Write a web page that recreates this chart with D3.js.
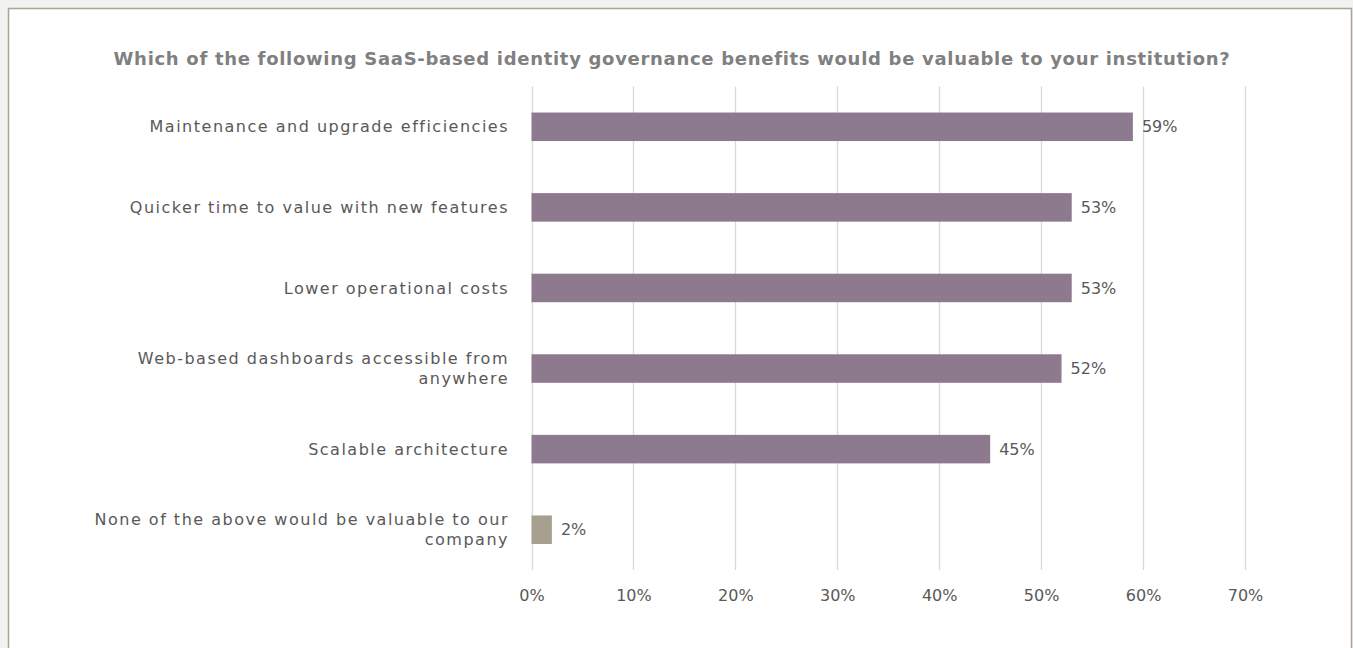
<!DOCTYPE html>
<html>
<head>
<meta charset="utf-8">
<script src="https://cdn.jsdelivr.net/npm/d3@7/dist/d3.min.js"></script>
<style>
  html, body { margin: 0; padding: 0; background: #f2f2f2; }
  svg { display: block; }
  text { font-family: "DejaVu Sans", sans-serif; }
</style>
</head>
<body>
<svg id="chart" width="1353" height="648"></svg>
<script>
// Survey responses (share of respondents, %)
const categories = [
  "Maintenance and upgrade efficiencies",
  "Quicker time to value with new features",
  "Lower operational costs",
  "Web-based dashboards accessible from\nanywhere",
  "Scalable architecture",
  "None of the above would be valuable to our\ncompany"
];
const values = [59, 53, 53, 52, 45, 2];
const barColors = ["#8e7a8f", "#8e7a8f", "#8e7a8f", "#8e7a8f", "#8e7a8f", "#a8a08f"];
const tickValues = [0, 10, 20, 30, 40, 50, 60, 70];
const title = "Which of the following SaaS-based identity governance benefits would be valuable to your institution?";

const svg = d3.select("#chart");
const W = 1353, H = 648;

// chart frame
svg.append("rect")
  .attr("x", 8.5).attr("y", 8.5)
  .attr("width", W - 10).attr("height", H + 10)
  .attr("fill", "#ffffff")
  .attr("stroke", "#aaa494")
  .attr("stroke-width", 1.5);

const plot = { left: 531.5, right: 1245, top: 86.5, bottom: 570 };

const x = d3.scaleLinear().domain([0, 70]).range([plot.left, plot.right]);
const y = d3.scaleBand().domain(categories).range([plot.top, plot.bottom]).paddingInner(0.646).paddingOuter(0.323);

// title
svg.append("text")
  .attr("x", 672).attr("y", 65)
  .attr("text-anchor", "middle")
  .attr("font-size", 18)
  .attr("letter-spacing", 0.7)
  .attr("font-weight", "bold")
  .attr("fill", "#808080")
  .text(title);

// vertical gridlines
svg.append("g")
  .selectAll("line")
  .data(tickValues)
  .join("line")
  .attr("x1", d => Math.round(x(d)) + 0.5)
  .attr("x2", d => Math.round(x(d)) + 0.5)
  .attr("y1", plot.top).attr("y2", plot.bottom)
  .attr("stroke", "#d9d9d9")
  .attr("stroke-width", 1.3);

// bottom axis labels
const xAxis = d3.axisBottom(x)
  .tickValues(tickValues)
  .tickFormat(d => d + "%")
  .tickSize(0)
  .tickPadding(20);
const gx = svg.append("g")
  .attr("transform", `translate(0,${plot.bottom})`)
  .call(xAxis);
gx.select(".domain").remove();
gx.selectAll("text")
  .attr("font-size", 16)
  .attr("font-family", "DejaVu Sans, sans-serif")
  .attr("fill", "#595959");

// bars
svg.append("g")
  .selectAll("rect")
  .data(values)
  .join("rect")
  .attr("x", x(0))
  .attr("y", (d, i) => y(categories[i]))
  .attr("width", d => x(d) - x(0))
  .attr("height", y.bandwidth())
  .attr("fill", (d, i) => barColors[i]);

// value labels
svg.append("g")
  .selectAll("text")
  .data(values)
  .join("text")
  .attr("x", d => x(d) + 9)
  .attr("y", (d, i) => y(categories[i]) + y.bandwidth() / 2)
  .attr("dy", "0.35em")
  .attr("font-size", 16)
  .attr("fill", "#595959")
  .text(d => d + "%");

// category labels (right aligned, multi-line where needed)
const lineH = 20;
const cat = svg.append("g")
  .selectAll("text")
  .data(categories)
  .join("text")
  .attr("text-anchor", "end")
  .attr("font-size", 16)
  .attr("letter-spacing", 1.5)
  .attr("fill", "#595959")
  .attr("transform", d => `translate(509,${y(d) + y.bandwidth() / 2})`);
cat.each(function(d) {
  const lines = d.split("\n");
  const t = d3.select(this);
  lines.forEach((ln, k) => {
    t.append("tspan")
      .attr("x", 0)
      .attr("y", (k - (lines.length - 1) / 2) * lineH)
      .attr("dy", "0.35em")
      .text(ln);
  });
});
</script>
</body>
</html>
